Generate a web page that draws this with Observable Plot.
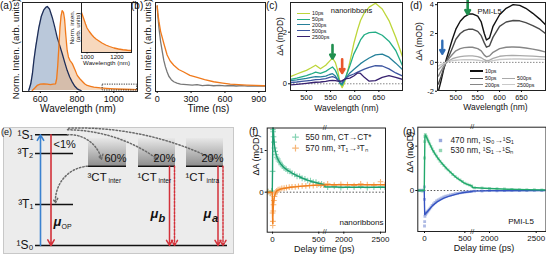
<!DOCTYPE html>
<html><head><meta charset="utf-8">
<script src="https://cdn.jsdelivr.net/npm/d3@7"></script>
<script src="https://cdn.jsdelivr.net/npm/@observablehq/plot@0.6"></script>
<style>
body{margin:0;background:#fff;}
#root{position:relative;width:546px;height:254px;overflow:hidden;font-family:"Liberation Sans",Arial,Helvetica,sans-serif;color:#111;}
.tag{position:absolute;font-size:10px;line-height:10px;white-space:nowrap;}
</style></head><body>
<svg width="0" height="0" style="position:absolute"><defs>
<linearGradient id="ctgrad" x1="0" y1="0" x2="0" y2="1"><stop offset="0" stop-color="#e8e8e8"/><stop offset="1" stop-color="#8f8f8f"/></linearGradient>
</defs></svg>
<div id="root"></div>
<script>
// ---------------- DATA ----------------
// (a) steady-state emission
const aBlueWl = [537, 548, 557, 565, 575, 592, 605, 619, 630, 638, 650, 665, 678, 692, 705, 719, 732, 746, 760, 774, 788, 801, 812, 822];
const aBlueI  = [0, 0.08, 0.2, 0.36, 0.52, 0.75, 0.88, 0.96, 0.99, 1.0, 0.97, 0.87, 0.76, 0.63, 0.54, 0.44, 0.34, 0.24, 0.16, 0.1, 0.05, 0.02, 0.008, 0];
const aOrangeWl = [556, 570, 583, 600, 619, 637, 656, 670, 683, 689, 695, 701, 707, 713, 719, 726, 732, 739, 746, 753, 761, 774, 788, 801, 815, 828, 841, 855, 873, 891, 927, 960, 1000, 1050, 1100, 1127];
const aOrangeI  = [0, 0.03, 0.06, 0.075, 0.08, 0.075, 0.07, 0.075, 0.08, 0.14, 0.3, 0.52, 0.75, 0.89, 0.95, 0.93, 0.85, 0.65, 0.48, 0.4, 0.36, 0.32, 0.25, 0.18, 0.14, 0.11, 0.08, 0.06, 0.05, 0.04, 0.03, 0.025, 0.02, 0.015, 0.012, 0.01];
const aTicks = [600, 800, 1000];
const aZoomBox = [{x1: 939, x2: 1127, y1: 0, y2: 0.07}];
const aInsetWl = [963, 975, 990, 1000, 1015, 1030, 1045, 1060, 1080, 1100, 1125, 1150, 1180, 1210, 1240, 1270, 1297];
const aInsetI  = [0.8, 0.7, 0.57, 0.49, 0.42, 0.36, 0.31, 0.27, 0.23, 0.19, 0.15, 0.12, 0.09, 0.07, 0.055, 0.045, 0.04];
const aInsetTicks = [1000, 1200];
// (b) time-resolved PL
const bOrangeT = [0, 5, 15, 30, 44, 60, 88, 115, 147, 190, 235, 290, 353, 420, 500, 580, 647, 720, 794, 870, 941, 958];
const bOrangeI = [1.0, 0.92, 0.82, 0.7, 0.63, 0.55, 0.42, 0.35, 0.3, 0.25, 0.22, 0.18, 0.156, 0.13, 0.105, 0.09, 0.078, 0.072, 0.066, 0.062, 0.058, 0.057];
const bGrayT = [0, 5, 15, 30, 44, 58, 73, 88, 103, 125, 147, 175, 206, 260, 310, 353, 400, 450, 500, 550, 600, 650, 700, 750, 800, 850, 900, 958];
const bGrayI = [1.0, 0.9, 0.75, 0.58, 0.47, 0.36, 0.28, 0.22, 0.17, 0.13, 0.105, 0.09, 0.078, 0.072, 0.064, 0.07, 0.06, 0.066, 0.058, 0.063, 0.056, 0.061, 0.055, 0.06, 0.054, 0.058, 0.053, 0.055];
const bTicks = [0, 300, 600, 900];
// (c) TA spectra, nanoribbons
const cWl = [467, 480, 490, 500, 510, 519, 529, 540, 548, 554, 560, 565, 570, 574, 578, 583, 590, 598, 606, 612, 620, 630, 643, 657, 671, 685, 699];
const cDelays = ["10ps", "50ps", "200ps", "500ps", "2500ps"];
const cColors = ["#bdd63a", "#24ad86", "#25809a", "#3d55a0", "#37216f"];
const c10   = [0.28, 0.38, 0.45, 0.52, 0.62, 0.72, 0.58, 0.72, 0.88, 1.0, 0.82, 0.5, 0.0, -0.15, 0.0, 0.3, 0.85, 1.55, 2.1, 2.45, 2.75, 2.97, 3.12, 2.9, 2.45, 1.8, 1.05];
const c50   = [0.17, 0.22, 0.27, 0.32, 0.38, 0.45, 0.4, 0.48, 0.58, 0.65, 0.52, 0.3, 0.0, -0.06, 0.1, 0.35, 0.7, 1.15, 1.45, 1.7, 1.9, 1.98, 2.0, 1.88, 1.65, 1.29, 0.7];
const c200  = [0.12, 0.15, 0.18, 0.21, 0.25, 0.28, 0.27, 0.3, 0.36, 0.39, 0.3, 0.15, 0.02, 0.0, 0.12, 0.25, 0.42, 0.55, 0.68, 0.78, 0.88, 1.0, 1.12, 1.15, 1.03, 0.8, 0.55];
const c500  = [0.05, 0.07, 0.09, 0.11, 0.13, 0.16, 0.17, 0.2, 0.25, 0.28, 0.24, 0.15, 0.08, 0.06, 0.15, 0.25, 0.32, 0.38, 0.45, 0.5, 0.57, 0.64, 0.7, 0.69, 0.58, 0.42, 0.3];
const c2500 = [-0.04, -0.02, 0.0, 0.02, 0.04, 0.06, 0.07, 0.09, 0.12, 0.13, 0.12, 0.1, 0.1, 0.12, 0.16, 0.2, 0.22, 0.3, 0.42, 0.4, 0.25, 0.1, 0.12, 0.25, 0.32, 0.25, 0.17];
const cTicksX = [500, 550, 600, 650];
const cTicksY = [0, 2];
// (d) TA spectra, PMI-L5
const dWl = [460, 466, 472, 478, 485, 492, 500, 510, 519, 530, 538, 550, 558, 565, 570, 577, 585, 600, 615, 631, 646, 660, 676, 692, 705];
const dDelays = ["10ps", "50ps", "200ps", "500ps", "2500ps"];
const dColors = ["#111111", "#4a4a4a", "#868686", "#aaaaaa", "#c9c9c9"];
const d10   = [-2.0, -1.3, -0.5, 0.2, 0.9, 1.6, 2.3, 2.85, 3.15, 3.35, 3.36, 3.2, 2.8, 2.0, 1.55, 1.7, 2.5, 3.3, 3.75, 4.0, 3.95, 3.75, 3.4, 3.0, 2.6];
const d50   = [-1.5, -1.0, -0.45, 0.05, 0.5, 1.0, 1.6, 2.0, 2.2, 2.3, 2.3, 2.15, 1.85, 1.35, 1.05, 1.15, 1.75, 2.5, 2.8, 2.9, 2.88, 2.75, 2.55, 2.3, 2.0];
const d200  = [-0.95, -0.6, -0.3, 0.0, 0.3, 0.55, 0.8, 0.95, 1.02, 1.05, 1.05, 0.95, 0.8, 0.5, 0.38, 0.45, 0.7, 0.95, 1.05, 1.07, 1.05, 1.0, 0.92, 0.82, 0.72];
const d500  = [-0.5, -0.32, -0.15, 0.0, 0.12, 0.25, 0.33, 0.4, 0.43, 0.45, 0.45, 0.4, 0.32, 0.18, 0.12, 0.15, 0.28, 0.42, 0.47, 0.48, 0.47, 0.45, 0.43, 0.4, 0.38];
const d2500 = [-0.25, -0.15, -0.07, 0.0, 0.07, 0.12, 0.15, 0.17, 0.18, 0.18, 0.18, 0.15, 0.12, 0.06, 0.04, 0.06, 0.12, 0.2, 0.22, 0.23, 0.23, 0.22, 0.22, 0.22, 0.21];
const dTicksX = [500, 550, 600, 650];
const dTicksY = [-2, 0, 2, 4];
// (e) energy diagram (energies normalised to S1 = 1)
const eLevels = [
  {name: "¹S₁", E: 1.0, x1: 35, x2: 68},
  {name: "³T₂", E: 0.83, x1: 35, x2: 73},
  {name: "³T₁", E: 0.37, x1: 35, x2: 73},
  {name: "¹S₀", E: 0.0, x1: 35, x2: 227}
];
const eCT = [
  {spin: "³CT", sub: "inter", share: "60%", x1: 88, x2: 126, E: 0.716},
  {spin: "¹CT", sub: "inter", share: "20%", x1: 138, x2: 175, E: 0.716},
  {spin: "¹CT", sub: "intra", share: "20%", x1: 186, x2: 223, E: 0.716}
];
const eCTtop = 0.967;
const eOptical = [
  {x: 40, from: 0, to: 1.0, color: "#3b82d0"},
  {x: 50.5, from: 1.0, to: 0, color: "#d3313a"}
];
const eCTemission = [
  {x: 169, from: 0.716, to: 0, dash: null},
  {x: 174, from: 0.716, to: 0, dash: "2,1.5"},
  {x: 217.5, from: 0.716, to: 0, dash: null},
  {x: 222.5, from: 0.716, to: 0, dash: "2,1.5"}
];
const eTransfer = [
  {xa: 67, ya: 1.0, xb: 101, yb: 0.78, bend: 40},
  {xa: 87, ya: 0.716, xb: 55, yb: 0.385, bend: -45},
  {xa: 67, ya: 1.045, xb: 157, yb: 0.78, bend: 18},
  {xa: 68, ya: 1.06, xb: 213, yb: 0.78, bend: 14}
];
// (f) kinetics, nanoribbons
const fTicks = [0, 500, 2000, 2500];
const f550T = [-50, -25, -8, 0, 3, 6, 10, 15, 20, 28, 36, 45, 55, 65, 78, 92, 108, 125, 145, 165, 188, 212, 238, 265, 292, 320, 350, 380, 410, 440, 470, 500, 530, 555, 1780, 1870, 1960, 2050, 2140, 2230, 2320, 2410, 2500, 2560];
const f550V = [0.02, -0.03, 0.03, 0.5, 1.5, 1.45, 1.33, 1.2, 1.06, 0.98, 0.9, 0.84, 0.8, 0.75, 0.72, 0.66, 0.63, 0.58, 0.56, 0.51, 0.5, 0.45, 0.43, 0.38, 0.38, 0.33, 0.32, 0.28, 0.28, 0.24, 0.24, 0.2, 0.2, 0.17, 0.12, 0.14, 0.11, 0.13, 0.12, 0.14, 0.11, 0.12, 0.13, 0.12];
const f550FitT = [-60, -3, 0, 3, 7, 14, 22, 33, 42, 51, 65, 87, 120, 159, 210, 268, 320, 377, 430, 486, 540, 565, 1741, 2000, 2300, 2568];
const f550FitV = [0, 0, 0.6, 1.55, 1.6, 1.3, 1.1, 0.96, 0.88, 0.82, 0.76, 0.68, 0.6, 0.53, 0.46, 0.39, 0.34, 0.29, 0.25, 0.22, 0.19, 0.18, 0.13, 0.12, 0.12, 0.12];
const f570T = [-50, -25, -8, 0, 2, 4, 7, 10, 14, 20, 28, 36, 45, 60, 80, 100, 125, 150, 180, 210, 245, 280, 320, 360, 400, 440, 480, 520, 555, 1780, 1870, 1960, 2050, 2140, 2230, 2320, 2410, 2500, 2560];
const f570V = [0.01, -0.02, 0.0, -0.5, -0.8, -0.7, -0.45, -0.3, -0.2, -0.1, -0.04, 0.0, 0.03, 0.06, 0.07, 0.09, 0.1, 0.11, 0.12, 0.13, 0.13, 0.14, 0.15, 0.15, 0.16, 0.16, 0.17, 0.17, 0.17, 0.2, 0.17, 0.19, 0.18, 0.16, 0.2, 0.18, 0.17, 0.25, 0.18];
const f570FitT = [-60, -3, 0, 2, 5, 10, 20, 35, 50, 80, 120, 200, 300, 400, 500, 565, 1741, 2568];
const f570FitV = [0, 0, -0.6, -0.75, -0.5, -0.28, -0.1, 0.0, 0.04, 0.07, 0.09, 0.12, 0.14, 0.16, 0.17, 0.17, 0.18, 0.18];
const fLegend = [
  {label: "550 nm, CT→CT*", color: "#1d9e70", light: "#86d3b4"},
  {label: "570 nm, ³T₁→³Tₙ", color: "#f07f1e", light: "#f6b678"}
];
// (g) kinetics, PMI-L5
const gTicks = [0, 500, 2000, 2500];
const g530T = [-60, -30, -10, 0, 2, 5, 10, 15, 22, 30, 40, 52, 65, 80, 95, 112, 130, 150, 170, 192, 215, 240, 265, 292, 320, 350, 380, 410, 440, 470, 500, 530, 560, 585, 1840, 1920, 2000, 2080, 2160, 2240, 2320, 2400, 2480, 2560];
const g530V = [0.02, -0.04, 0.03, 2.2, 3.3, 3.65, 3.8, 3.7, 3.65, 3.55, 3.42, 3.3, 3.15, 2.98, 2.82, 2.65, 2.48, 2.32, 2.15, 1.98, 1.82, 1.68, 1.52, 1.4, 1.24, 1.08, 0.95, 0.84, 0.72, 0.62, 0.5, 0.43, 0.36, 0.31, 0.2, 0.18, 0.15, 0.12, 0.1, 0.08, 0.06, 0.05, 0.05, 0.04];
const g530FitT = [-80, -3, 0, 5, 10, 15, 30, 50, 74, 100, 130, 157, 200, 240, 280, 322, 365, 405, 450, 488, 530, 570, 591, 1815, 1900, 2000, 2200, 2400, 2605];
const g530FitV = [0, 0, 1.5, 3.6, 3.75, 3.72, 3.55, 3.3, 3.04, 2.75, 2.48, 2.25, 1.95, 1.69, 1.45, 1.24, 1.02, 0.83, 0.67, 0.52, 0.42, 0.34, 0.3, 0.2, 0.17, 0.14, 0.09, 0.06, 0.04];
const g470T = [-60, -30, -10, 0, 0, 0, 2, 5, 10, 15, 22, 30, 40, 52, 65, 80, 95, 112, 130, 150, 170, 192, 215, 240, 265, 292, 320, 350, 380, 410, 440, 470, 500, 530, 560, 585, 1840, 1920, 2000, 2080, 2160, 2240, 2320, 2400, 2480, 2560];
const g470V = [0.0, 0.03, -0.02, 0.25, -0.6, -2.4, -2.1, -1.75, -1.62, -1.58, -1.52, -1.47, -1.4, -1.33, -1.24, -1.12, -1.0, -0.9, -0.8, -0.7, -0.63, -0.56, -0.5, -0.44, -0.38, -0.34, -0.3, -0.26, -0.22, -0.19, -0.16, -0.13, -0.11, -0.09, -0.07, -0.06, -0.04, -0.03, 0.0, -0.02, 0.0, 0.02, 0.0, -0.01, 0.01, 0.0];
const g470FitT = [-80, -3, 0, 3, 8, 20, 40, 74, 100, 157, 200, 240, 300, 364, 420, 488, 591, 1815, 2000, 2605];
const g470FitV = [0, 0, -1.0, -1.62, -1.6, -1.52, -1.4, -1.18, -1.02, -0.77, -0.63, -0.52, -0.4, -0.29, -0.21, -0.13, -0.07, -0.04, -0.02, 0];
const gLegend = [
  {label: "470 nm, ¹S₀→¹S₁", color: "#3553c2", light: "#9aa9dd"},
  {label: "530 nm, ¹S₁→¹Sₙ", color: "#22a96c", light: "#94d6b4"}
];

// ---------------- HELPERS ----------------
const FONT = '"Liberation Sans", Arial, Helvetica, sans-serif';
const root = document.getElementById("root");
const fmt = d => String(d);
const zip = (xs, ys) => xs.slice(0, Math.min(xs.length, ys.length)).map((x, i) => ({x, y: ys[i]}));
function place(el, left, top) {
  el.style.position = "absolute"; el.style.left = left + "px"; el.style.top = top + "px";
  root.appendChild(el); return el;
}
function plot(opts, left, top) {
  const svg = Plot.plot({...opts, style: {background: "transparent", fontFamily: FONT, color: "#111", overflow: "visible"}});
  return place(svg, left, top);
}
const lbl = (s, o) => Plot.text([s], {text: d => d, fill: "#111", textAnchor: "middle", lineAnchor: "middle", ...o});
function tag(text, left, top, size) {
  const d = document.createElement("div"); d.className = "tag"; d.textContent = text;
  if (size) d.style.fontSize = size + "px";
  return place(d, left, top);
}
function legendRow(left, y, len, color, lw, text, fs) {
  const d = document.createElement("div");
  d.style.cssText = `position:absolute;left:${left}px;top:${y - fs * 0.6}px;height:${fs * 1.2}px;font-size:${fs}px;line-height:${fs * 1.2}px;display:flex;align-items:center;white-space:nowrap;`;
  const ln = document.createElement("span");
  ln.style.cssText = `display:inline-block;width:${len}px;height:0;border-top:${lw}px solid ${color};margin-right:2px;`;
  d.append(ln, document.createTextNode(text));
  root.appendChild(d);
}

// ---------------- (a) ----------------
{
  const blue = zip(aBlueWl, aBlueI), orange = zip(aOrangeWl, aOrangeI);
  plot({
    width: 140, height: 114, marginLeft: 22, marginRight: 3, marginTop: 2, marginBottom: 23,
    x: {domain: [503, 1129], axis: null}, y: {domain: [-0.012, 1.048], axis: null},
    marks: [
      Plot.areaY(blue, {x: "x", y: "y", fill: "#b3c2d6", fillOpacity: 0.9}),
      Plot.areaY(orange, {x: "x", y: "y", fill: "#f0b17c", fillOpacity: 0.5}),
      Plot.line(blue, {x: "x", y: "y", stroke: "#1d2d57", strokeWidth: 1.3}),
      Plot.line(orange, {x: "x", y: "y", stroke: "#f07a1c", strokeWidth: 1.3}),
      Plot.rect(aZoomBox, {x1: "x1", x2: "x2", y1: "y1", y2: "y2", fill: "none", stroke: "#333", strokeDasharray: "1.2,1.2"}),
      Plot.frame({stroke: "#222"}),
      Plot.axisX(aTicks, {tickSize: 2, tickPadding: 2, fontSize: 9, label: null, tickFormat: fmt}),
      lbl("Wavelength (nm)", {frameAnchor: "bottom", dy: 17, dx: -2, fontSize: 10}),
      lbl("Norm. Inten. (arb. units)", {frameAnchor: "left", rotate: -90, dx: -7, dy: 2, fontSize: 9.5})
    ]
  }, 0, 0);
  const inset = zip(aInsetWl, aInsetI);
  plot({
    width: 70, height: 66, marginLeft: 17, marginRight: 3, marginTop: 2, marginBottom: 14,
    x: {domain: [963, 1297], axis: null}, y: {domain: [0, 1], axis: null},
    marks: [
      Plot.frame({fill: "white", stroke: "none"}),
      Plot.areaY(inset, {x: "x", y: "y", fill: "#f0b17c", fillOpacity: 0.5}),
      Plot.line(inset, {x: "x", y: "y", stroke: "#f07a1c", strokeWidth: 1.3}),
      Plot.frame({stroke: "#222"}),
      Plot.axisX(aInsetTicks, {tickSize: 1.5, tickPadding: 0.5, fontSize: 6, label: null, tickFormat: fmt}),
      lbl("Wavelength (nm)", {frameAnchor: "bottom", dy: 11, fontSize: 6.2}),
      lbl("Norm. inten.", {frameAnchor: "left", rotate: -90, dx: -9, fontSize: 6.2}),
      lbl("(arb. units)", {frameAnchor: "left", rotate: -90, dx: -3, fontSize: 6.2})
    ]
  }, 64, 0);
}

// ---------------- (b) ----------------
{
  const orange = zip(bOrangeT, bOrangeI), gray = zip(bGrayT, bGrayI);
  plot({
    width: 138, height: 114, marginLeft: 25, marginRight: 3, marginTop: 2, marginBottom: 23,
    x: {domain: [-15, 959], axis: null}, y: {domain: [-0.01, 1.04], axis: null},
    marks: [
      Plot.line(gray, {x: "x", y: "y", stroke: "#777", strokeWidth: 1.3}),
      Plot.line(orange, {x: "x", y: "y", stroke: "#f07a1c", strokeWidth: 1.3}),
      Plot.frame({stroke: "#222"}),
      Plot.axisX(bTicks, {tickSize: 2, tickPadding: 2, fontSize: 9, label: null, tickFormat: fmt}),
      lbl("Time (ns)", {frameAnchor: "bottom", dy: 17, dx: -2, fontSize: 10}),
      lbl("Norm. Inten. (arb. units)", {frameAnchor: "left", rotate: -90, dx: -8, dy: 2, fontSize: 9.5})
    ]
  }, 130, 0);
}

// ---------------- (c) ----------------
{
  const series = [c10, c50, c200, c500, c2500];
  const rows = series.flatMap((vals, k) => cWl.map((w, i) => ({w, v: vals[i], delay: cDelays[k]})));
  plot({
    width: 136, height: 114, marginLeft: 22, marginRight: 2, marginTop: 2, marginBottom: 24,
    x: {domain: [467, 699], axis: null}, y: {domain: [-0.26, 3.15], axis: null},
    color: {domain: cDelays, range: cColors},
    marks: [
      Plot.ruleY([0], {stroke: "#888", strokeDasharray: "1.5,1.5"}),
      Plot.line(rows, {x: "w", y: "v", z: "delay", stroke: "delay", strokeWidth: 1.3, clip: true}),
      Plot.arrow([{x: 554, y1: 1.5, y2: 0.98}], {x1: "x", x2: "x", y1: "y1", y2: "y2", stroke: "#1f8f4e", strokeWidth: 2.6, headLength: 6}),
      Plot.arrow([{x: 574, y1: 0.95, y2: 0.42}], {x1: "x", x2: "x", y1: "y1", y2: "y2", stroke: "#e9572b", strokeWidth: 2.6, headLength: 6}),
      Plot.frame({stroke: "#222"}),
      Plot.axisX(cTicksX, {tickSize: 2, tickPadding: 2, fontSize: 7.5, label: null, tickFormat: fmt}),
      Plot.axisY(cTicksY, {tickSize: 2, tickPadding: 1.5, fontSize: 7.5, label: null, tickFormat: fmt}),
      lbl("Wavelength (nm)", {frameAnchor: "bottom", dy: 18, dx: 0, fontSize: 8.5}),
      lbl("ΔA (mOD)", {frameAnchor: "left", rotate: -90, dx: -10, dy: -10, fontSize: 8.5}),
      lbl("nanoribbons", {frameAnchor: "top", dx: 5, dy: 8, fontSize: 7.5})
    ]
  }, 268, 0);
  cDelays.forEach((d, i) => legendRow(297, 13.3 + i * 5.85, 13, cColors[i], 1.4, d, 5.3));
}

// ---------------- (d) ----------------
{
  const series = [d10, d50, d200, d500, d2500];
  const rows = series.flatMap((vals, k) => dWl.map((w, i) => ({w, v: vals[i], delay: dDelays[k]})));
  plot({
    width: 136, height: 114, marginLeft: 27, marginRight: 1, marginTop: 2, marginBottom: 24,
    x: {domain: [458, 705], axis: null}, y: {domain: [-1.95, 4.15], axis: null},
    color: {domain: dDelays, range: dColors},
    marks: [
      Plot.line(rows, {x: "w", y: "v", z: "delay", stroke: "delay", strokeWidth: 1.4, clip: true}),
      Plot.ruleY([0], {stroke: "#888", strokeDasharray: "1.5,1.5"}),
      Plot.arrow([{x: 527, y1: 4.3, y2: 3.35}], {x1: "x", x2: "x", y1: "y1", y2: "y2", stroke: "#1f8f4e", strokeWidth: 2.6, headLength: 6}),
      Plot.arrow([{x: 469, y1: 1.5, y2: 0.6}], {x1: "x", x2: "x", y1: "y1", y2: "y2", stroke: "#2f6db5", strokeWidth: 2.4, headLength: 6}),
      Plot.frame({stroke: "#222"}),
      Plot.axisX(dTicksX, {tickSize: 2, tickPadding: 2, fontSize: 7.5, label: null, tickFormat: fmt}),
      Plot.axisY(dTicksY, {tickSize: 2, tickPadding: 1.5, fontSize: 7.5, label: null, tickFormat: fmt}),
      lbl("Wavelength (nm)", {frameAnchor: "bottom", dy: 17, dx: 4, fontSize: 8.5}),
      lbl("ΔA (mOD)", {frameAnchor: "left", rotate: -90, dx: -18, dy: -5, fontSize: 8.5}),
      lbl("PMI-L5", {frameAnchor: "top-left", textAnchor: "start", dx: 40, dy: 9, fontSize: 7.5})
    ]
  }, 410, 0);
  legendRow(470, 71, 13, dColors[0], 2, dDelays[0], 5.3);
  legendRow(470, 78.3, 13, dColors[1], 1.5, dDelays[1], 5.3);
  legendRow(470, 85, 13, dColors[2], 1.5, dDelays[2], 5.3);
  legendRow(502, 78.3, 13, dColors[3], 1.5, dDelays[3], 5.3);
  legendRow(502, 85, 13, dColors[4], 1.5, dDelays[4], 5.3);
}

// ---------------- (e) ----------------
{
  const marks = [
    Plot.frame({fill: "#ececec", stroke: "#c8c8c8"}),
    Plot.rect(eCT, {x1: "x1", x2: "x2", y1: "E", y2: () => eCTtop, fill: "url(#ctgrad)"}),
    Plot.ruleY(eCT, {x1: "x1", x2: "x2", y: "E", stroke: "#111", strokeWidth: 1.5}),
    Plot.ruleY(eLevels, {x1: "x1", x2: "x2", y: "E", stroke: "#111", strokeWidth: 1.5}),
    Plot.text(eLevels, {x: "x1", y: "E", text: "name", textAnchor: "end", dx: -2, fontSize: 12, fill: "#111"}),
    Plot.arrow(eOptical, {x1: "x", x2: "x", y1: "from", y2: "to", stroke: "color", strokeWidth: 1.6, headLength: 6}),
    ...eCTemission.map(a => Plot.arrow([a], {x1: "x", x2: "x", y1: "from", y2: "to", stroke: "#d3313a", strokeWidth: 1.5, headLength: 6, strokeDasharray: a.dash})),
    ...eTransfer.map(a => Plot.arrow([a], {x1: "xa", y1: "ya", x2: "xb", y2: "yb", bend: a.bend, stroke: "#6a6a6a", strokeWidth: 1.5, strokeDasharray: "1.4,2", headLength: 5})),
    Plot.text(eCT, {x: "x2", y: "E", text: "share", textAnchor: "end", dy: -8, fontSize: 11, fill: "#111"}),
    Plot.text(eCT, {x: "x1", y: "E", text: "spin", textAnchor: "start", dx: -1, dy: 11.5, fontSize: 11.5, fill: "#111"}),
    Plot.text(eCT, {x: "x1", y: "E", text: "sub", textAnchor: "start", dx: 20, dy: 15, fontSize: 6.5, fill: "#111"}),
    Plot.text([{x: 53, E: 0.912, t: "<1%"}], {x: "x", y: "E", text: "t", textAnchor: "start", fontSize: 11, fill: "#111"}),
    Plot.text([{x: 53, E: 0.21, t: "μ"}], {x: "x", y: "E", text: "t", textAnchor: "start", fontSize: 13, fontWeight: "bold", fontStyle: "italic", fill: "#111"}),
    Plot.text([{x: 61, E: 0.17, t: "OP"}], {x: "x", y: "E", text: "t", textAnchor: "start", fontSize: 7, fill: "#111"}),
    Plot.text([{x: 150, E: 0.29, t: "μ"}, {x: 203, E: 0.29, t: "μ"}], {x: "x", y: "E", text: "t", textAnchor: "start", fontSize: 13, fontWeight: "bold", fontStyle: "italic", fill: "#111"}),
    Plot.text([{x: 158, E: 0.24, t: "b"}, {x: 211.5, E: 0.24, t: "a"}], {x: "x", y: "E", text: "t", textAnchor: "start", fontSize: 11, fontWeight: "bold", fontStyle: "italic", fill: "#111"})
  ];
  plot({
    width: 240, height: 129, marginLeft: 3, marginRight: 7, marginTop: 2, marginBottom: 1,
    x: {domain: [3, 233], axis: null}, y: {domain: [-0.0723, 1.066], axis: null},
    marks
  }, 0, 125);
}

// ---------------- (f), (g) ----------------
function kinetics(cfg) {
  const marks = [
    Plot.ruleY([0], {stroke: "#555", strokeDasharray: "1.5,1.8"}),
    ...cfg.series.map(s => Plot.dot(zip(s.t, s.v), {x: "x", y: "y", symbol: cfg.symbol, r: cfg.r, stroke: cfg.symbol === "plus" ? s.light : "none", fill: cfg.symbol === "plus" ? "none" : s.light, fillOpacity: 0.8, strokeWidth: 1.1, clip: true})),
    ...cfg.series.map(s => Plot.line(zip(s.ft, s.fv), {x: "x", y: "y", stroke: s.color, strokeWidth: 1.4, clip: true})),
    Plot.frame({stroke: "#222"}),
    Plot.axisX(cfg.ticksX, {tickSize: 2, tickPadding: 2, fontSize: 8, label: null, tickFormat: fmt}),
    Plot.axisY(cfg.ticksY, {tickSize: 2, tickPadding: 1.5, fontSize: 8, label: null, tickFormat: fmt}),
    Plot.text([cfg.breakAt], {x: d => d, frameAnchor: "bottom", lineAnchor: "middle", text: () => "//", fontSize: 7, fill: "#222"}),
    Plot.text([cfg.breakAt], {x: d => d, frameAnchor: "top", lineAnchor: "middle", text: () => "//", fontSize: 7, fill: "#222"}),
    lbl("Delay time (ps)", {frameAnchor: "bottom", dy: 16.5, dx: cfg.xlabDx, fontSize: 9}),
    lbl("ΔA (mOD)", {frameAnchor: "left", rotate: -90, dx: cfg.ylabDx, dy: cfg.ylabDy, fontSize: 9}),
    lbl(cfg.sample, {frameAnchor: "bottom-right", textAnchor: "end", dx: cfg.sampleDx, dy: -10, fontSize: 8}),
    ...cfg.legend.flatMap((it, i) => [
      Plot.dot([it], {frameAnchor: "top-left", dx: cfg.legX, dy: cfg.legY + i * cfg.legStep, symbol: cfg.symbol, r: cfg.r + 0.3, stroke: cfg.symbol === "plus" ? it.light : "none", fill: cfg.symbol === "plus" ? "none" : it.light, strokeWidth: 1.2}),
      Plot.text([it], {frameAnchor: "top-left", dx: cfg.legX + 10, dy: cfg.legY + i * cfg.legStep, text: "label", textAnchor: "start", lineAnchor: "middle", fontSize: 8.3, fill: "#222"})
    ])
  ];
  return plot({
    width: cfg.width, height: 129, marginLeft: cfg.ml, marginRight: cfg.mr, marginTop: cfg.mt, marginBottom: cfg.mb,
    x: {type: "linear", domain: cfg.xDomain, range: cfg.xRange, axis: null},
    y: {domain: cfg.yDomain, axis: null},
    marks
  }, cfg.left, 125);
}
kinetics({
  left: 248, width: 140, ml: 18.7, mr: 3, mt: 2.5, mb: 22.3,
  xDomain: [-58, 565, 1741, 2568], xRange: [18.7, 76.3, 76.3, 137], breakAt: 565,
  yDomain: [-0.96, 1.54], ticksX: fTicks, ticksY: [0, 1],
  symbol: "plus", r: 2,
  series: [
    {t: f550T, v: f550V, ft: f550FitT, fv: f550FitV, color: fLegend[0].color, light: fLegend[0].light},
    {t: f570T, v: f570V, ft: f570FitT, fv: f570FitV, color: fLegend[1].color, light: fLegend[1].light}
  ],
  legend: fLegend, legX: 28.3, legY: 9.2, legStep: 11, sample: "nanoribbons", sampleDx: -2,
  xlabDx: -2, ylabDx: -11, ylabDy: -25
});
kinetics({
  left: 400, width: 146, ml: 17.3, mr: 0.5, mt: 1.7, mb: 23,
  xDomain: [-83, 591, 1815, 2605], xRange: [17.3, 71.7, 71.7, 145.5], breakAt: 591,
  yDomain: [-2.77, 4.28], ticksX: gTicks, ticksY: [0, 3],
  symbol: "square", r: 1.6,
  series: [
    {t: g470T, v: g470V, ft: g470FitT, fv: g470FitV, color: gLegend[0].color, light: gLegend[0].light},
    {t: g530T, v: g530V, ft: g530FitT, fv: g530FitV, color: gLegend[1].color, light: gLegend[1].light}
  ],
  legend: gLegend, legX: 22.7, legY: 13.3, legStep: 10, sample: "PMI-L5", sampleDx: -12,
  xlabDx: 2, ylabDx: -8, ylabDy: -27
});

// ---------------- panel tags ----------------
tag("(a)", 0, 1); tag("(b)", 131, 1); tag("(c)", 266, 1); tag("(d)", 410, 1);
tag("(e)", 1, 127, 9); tag("(f)", 249, 127); tag("(g)", 403, 127);
</script>
</body></html>
